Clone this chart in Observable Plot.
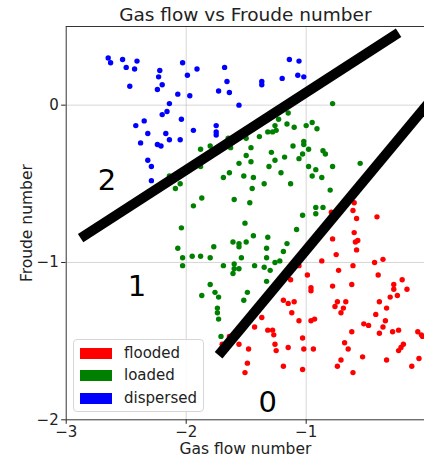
<!DOCTYPE html>
<html>
<head>
<meta charset="utf-8">
<script src="https://cdn.jsdelivr.net/npm/d3@7"></script>
<script src="https://cdn.jsdelivr.net/npm/@observablehq/plot@0.6"></script>
<style>
  html, body { margin: 0; padding: 0; background: #fff; }
  #wrap { position: relative; width: 424px; height: 458px; overflow: hidden; font-family: "DejaVu Sans", sans-serif; }
  #legend { position: absolute; left: 73px; top: 339px; width: 131px; height: 73px; box-sizing: border-box;
            border: 1px solid #d6d6d6; border-radius: 4px; background: rgba(255,255,255,0.85); }
  .row { position: absolute; left: 0; height: 20px; }
  .sw { position: absolute; left: 6px; width: 32px; height: 11px; }
  .lb { position: absolute; left: 50px; font-size: 15px; line-height: 20px; color: #222; white-space: nowrap; }
</style>
</head>
<body>
<div id="wrap"></div>
<script>
// ---- data ----
const title = "Gas flow vs Froude number";
const xLabel = "Gas flow number";
const yLabel = "Froude number";
const classes = ["flooded", "loaded", "dispersed"];
const classColors = ["#ff0000", "#008000", "#0000ff"];
const xTicks = [-3, -2, -1];
const yTicks = [-2, -1, 0];
const xTickLabels = ["−3", "−2", "−1"];
const yTickLabels = ["−2", "−1", "0"];

const dispersed = [
  [-2.65,0.30],[-2.63,0.27],[-2.53,0.29],[-2.50,0.24],[-2.43,0.23],[-2.41,0.28],[-2.47,0.12],
  [-2.22,0.22],[-2.23,0.18],[-2.20,0.13],[-2.24,0.10],[-2.03,0.27],[-1.99,0.19],[-1.91,0.23],
  [-2.07,0.07],[-1.97,0.06],[-2.14,0.01],[-2.16,-0.04],[-2.20,-0.06],[-2.04,-0.09],[-2.35,-0.10],
  [-2.42,-0.13],[-2.32,-0.18],[-2.17,-0.18],[-1.94,-0.16],[-2.38,-0.24],[-2.14,-0.22],[-2.05,-0.22],
  [-2.24,-0.25],[-2.21,-0.26],[-2.32,-0.35],[-2.29,-0.39],[-2.29,-0.48],[-1.68,0.24],[-1.66,0.15],
  [-1.73,0.09],[-1.64,0.08],[-1.56,0.00],[-1.37,0.15],[-1.37,0.13],[-1.20,0.17],[-1.14,0.29],
  [-1.06,0.28],[-1.07,0.19],[-1.02,0.18],[-1.75,-0.13],[-1.75,-0.19],[-1.75,-0.17]
];

const loaded = [
  [-0.78,0.01],[-1.15,-0.05],[-1.23,-0.09],[-1.26,-0.13],[-1.16,-0.12],[-1.10,-0.14],[-1.00,-0.13],
  [-0.95,-0.11],[-0.91,-0.15],[-1.32,-0.17],[-1.28,-0.17],[-1.25,-0.16],[-1.39,-0.20],[-1.50,-0.21],
  [-1.63,-0.27],[-1.65,-0.21],[-1.88,-0.28],[-1.80,-0.26],[-1.46,-0.27],[-1.50,-0.32],[-1.56,-0.37],
  [-1.46,-0.36],[-1.29,-0.30],[-1.26,-0.35],[-1.18,-0.33],[-1.11,-0.26],[-1.02,-0.23],[-1.02,-0.25],
  [-0.98,-0.28],[-1.03,-0.31],[-1.06,-0.34],[-0.86,-0.29],[-0.84,-0.31],[-1.31,-0.39],[-1.21,-0.43],
  [-0.98,-0.39],[-0.92,-0.41],[-0.78,-0.39],[-0.95,-0.45],[-0.87,-0.46],[-1.64,-0.43],[-1.69,-0.46],
  [-1.52,-0.45],[-1.44,-0.46],[-1.35,-0.50],[-1.13,-0.50],[-1.88,-0.39],[-2.14,-0.45],[-2.09,-0.53],
  [-2.05,-0.50],[-1.94,-0.64],[-1.87,-0.59],[-1.60,-0.60],[-1.45,-0.53],[-1.47,-0.62],[-2.04,-0.78],
  [-2.07,-0.91],[-2.03,-0.97],[-2.03,-1.02],[-1.95,-0.96],[-1.88,-0.96],[-1.80,-0.97],[-1.77,-0.90],
  [-1.69,-1.02],[-1.61,-0.87],[-1.56,-0.88],[-1.56,-0.90],[-1.50,-0.87],[-1.60,-1.01],[-1.61,-1.07],
  [-1.60,-1.04],[-1.56,-1.04],[-1.54,-0.97],[-1.43,-1.02],[-1.35,-1.03],[-1.33,-0.97],[-1.33,-0.91],
  [-1.32,-0.84],[-1.44,-0.83],[-1.51,-0.75],[-1.30,-1.05],[-1.26,-1.00],[-1.22,-0.99],[-1.33,-1.12],
  [-1.80,-1.14],[-1.76,-1.19],[-1.73,-1.22],[-1.87,-1.21],[-1.74,-1.29],[-1.49,-1.19],[-1.52,-1.24],
  [-0.80,-0.54],[-0.92,-0.65],[-0.86,-0.65],[-0.92,-0.69],[-1.03,-0.70],[-1.08,-0.79],[-1.16,-0.88],
  [-1.19,-0.93],[-1.74,-1.32],[-1.73,-1.36],[-1.71,-1.47],[-0.55,-0.37]
];

const flooded = [
  [-0.60,-0.62],[-0.61,-0.67],[-0.58,-0.72],[-0.41,-0.71],[-0.79,-0.68],[-0.60,-0.81],[-0.59,-0.87],
  [-0.57,-0.86],[-0.58,-0.92],[-0.78,-0.85],[-0.75,-0.95],[-0.87,-0.99],[-0.61,-1.02],[-0.43,-1.00],
  [-0.36,-0.98],[-0.73,-1.05],[-0.40,-1.08],[-0.99,-1.08],[-1.13,-1.11],[-0.78,-1.15],[-0.62,-1.14],
  [-0.96,-1.16],[-0.96,-1.18],[-0.27,-1.14],[-0.27,-1.17],[-0.20,-1.11],[-0.16,-1.17],[-0.24,-1.21],
  [-0.30,-1.22],[-0.39,-1.25],[-0.33,-1.29],[-0.74,-1.25],[-0.67,-1.25],[-0.76,-1.28],[-0.69,-1.29],
  [-1.19,-1.24],[-1.15,-1.26],[-1.10,-1.25],[-1.06,-1.02],[-1.12,-1.32],[-1.06,-1.37],[-1.37,-1.35],
  [-1.43,-1.41],[-1.32,-1.43],[-1.28,-1.43],[-1.27,-1.46],[-1.26,-1.52],[-1.25,-1.56],[-1.48,-1.55],
  [-1.49,-1.64],[-1.51,-1.70],[-1.19,-1.66],[-1.15,-1.54],[-1.03,-1.48],[-1.02,-1.55],[-1.03,-1.68],
  [-0.96,-1.37],[-0.93,-1.36],[-0.42,-1.33],[-0.34,-1.37],[-0.52,-1.39],[-0.48,-1.40],[-0.39,-1.45],
  [-0.28,-1.44],[-0.23,-1.43],[-0.62,-1.44],[-0.68,-1.51],[-0.65,-1.55],[-0.53,-1.60],[-0.74,-1.66],
  [-0.61,-1.70],[-0.71,-1.62],[-0.19,-1.52],[-0.21,-1.54],[-0.23,-1.56],[-0.33,-1.62],[-0.12,-1.66],
  [-0.07,-1.44],[-0.04,-1.46],[-0.03,-1.47],[-0.06,-1.61],[-0.71,-1.32],[-1.56,-1.52],[-1.64,-1.47],
  [-1.70,-1.52],[-0.36,-1.41],[-0.94,-1.55]
];

// hand-drawn regime boundaries (endpoints in data units)
const boundaryUpper = [[-2.88,-0.845],[-0.23,0.46]];
const boundaryLower = [[-1.73,-1.59],[0.12,0.105]];
const regionLabels = ["2", "1", "0"];
const regionX = [-2.66, -2.41, -1.32];
const regionY = [-0.48, -1.155, -1.89];

// ---- build ----
const points = [
  ...flooded.map(([x, y]) => ({x, y, c: "flooded"})),
  ...loaded.map(([x, y]) => ({x, y, c: "loaded"})),
  ...dispersed.map(([x, y]) => ({x, y, c: "dispersed"}))
];
const regions = regionLabels.map((t, i) => ({t, x: regionX[i], y: regionY[i]}));
const fmt = (ticks, labels) => v => labels[ticks.indexOf(v)];

const chart = Plot.plot({
  width: 424,
  height: 458,
  marginTop: 26,
  marginBottom: 38.7,
  marginLeft: 65.7,
  marginRight: 0,
  style: {fontFamily: "DejaVu Sans, sans-serif", fontSize: "15px", color: "#222", background: "transparent"},
  x: {domain: [-3, -0.014], ticks: xTicks, tickFormat: fmt(xTicks, xTickLabels), tickSize: 4.5, tickPadding: 2, label: null},
  y: {domain: [-2, 0.5], ticks: yTicks, tickFormat: fmt(yTicks, yTickLabels), tickSize: 4.5, tickPadding: 3, label: null},
  color: {domain: classes, range: classColors},
  marks: [
    Plot.ruleX([-2, -1], {stroke: "#b0b0b0", strokeOpacity: 0.5, strokeWidth: 1}),
    Plot.ruleY([-1, 0], {stroke: "#b0b0b0", strokeOpacity: 0.5, strokeWidth: 1}),
    Plot.dot(points, {x: "x", y: "y", fill: "c", r: 2.7, stroke: "none"}),
    Plot.frame({stroke: "#333", strokeWidth: 1}),
    Plot.line(boundaryUpper, {x: d => d[0], y: d => d[1], stroke: "black", strokeWidth: 10, strokeLinecap: "butt", clip: true}),
    Plot.line(boundaryLower, {x: d => d[0], y: d => d[1], stroke: "black", strokeWidth: 10, strokeLinecap: "butt", clip: true}),
    Plot.text(regions, {x: "x", y: "y", text: "t", fontSize: 29, fill: "black"}),
    Plot.text([title], {frameAnchor: "top", lineAnchor: "middle", dy: -11, fontSize: 18.5, fill: "#222"}),
    Plot.text([xLabel], {frameAnchor: "bottom", lineAnchor: "middle", dy: 29, fontSize: 15.5, fill: "#222"}),
    Plot.text([yLabel], {frameAnchor: "left", textAnchor: "middle", lineAnchor: "middle", dx: -39, rotate: -90, fontSize: 15.5, fill: "#222"})
  ]
});

const wrap = document.getElementById("wrap");
wrap.appendChild(chart);

// legend (inside the axes, lower left)
const legend = document.createElement("div");
legend.id = "legend";
const rowTops = [3, 25, 48];
classes.forEach((c, i) => {
  const row = document.createElement("div");
  row.className = "row";
  row.style.top = rowTops[i] + "px";
  row.innerHTML = `<div class="sw" style="top:4.5px;background:${classColors[i]}"></div><div class="lb">${c}</div>`;
  legend.appendChild(row);
});
wrap.appendChild(legend);
</script>
</body>
</html>
